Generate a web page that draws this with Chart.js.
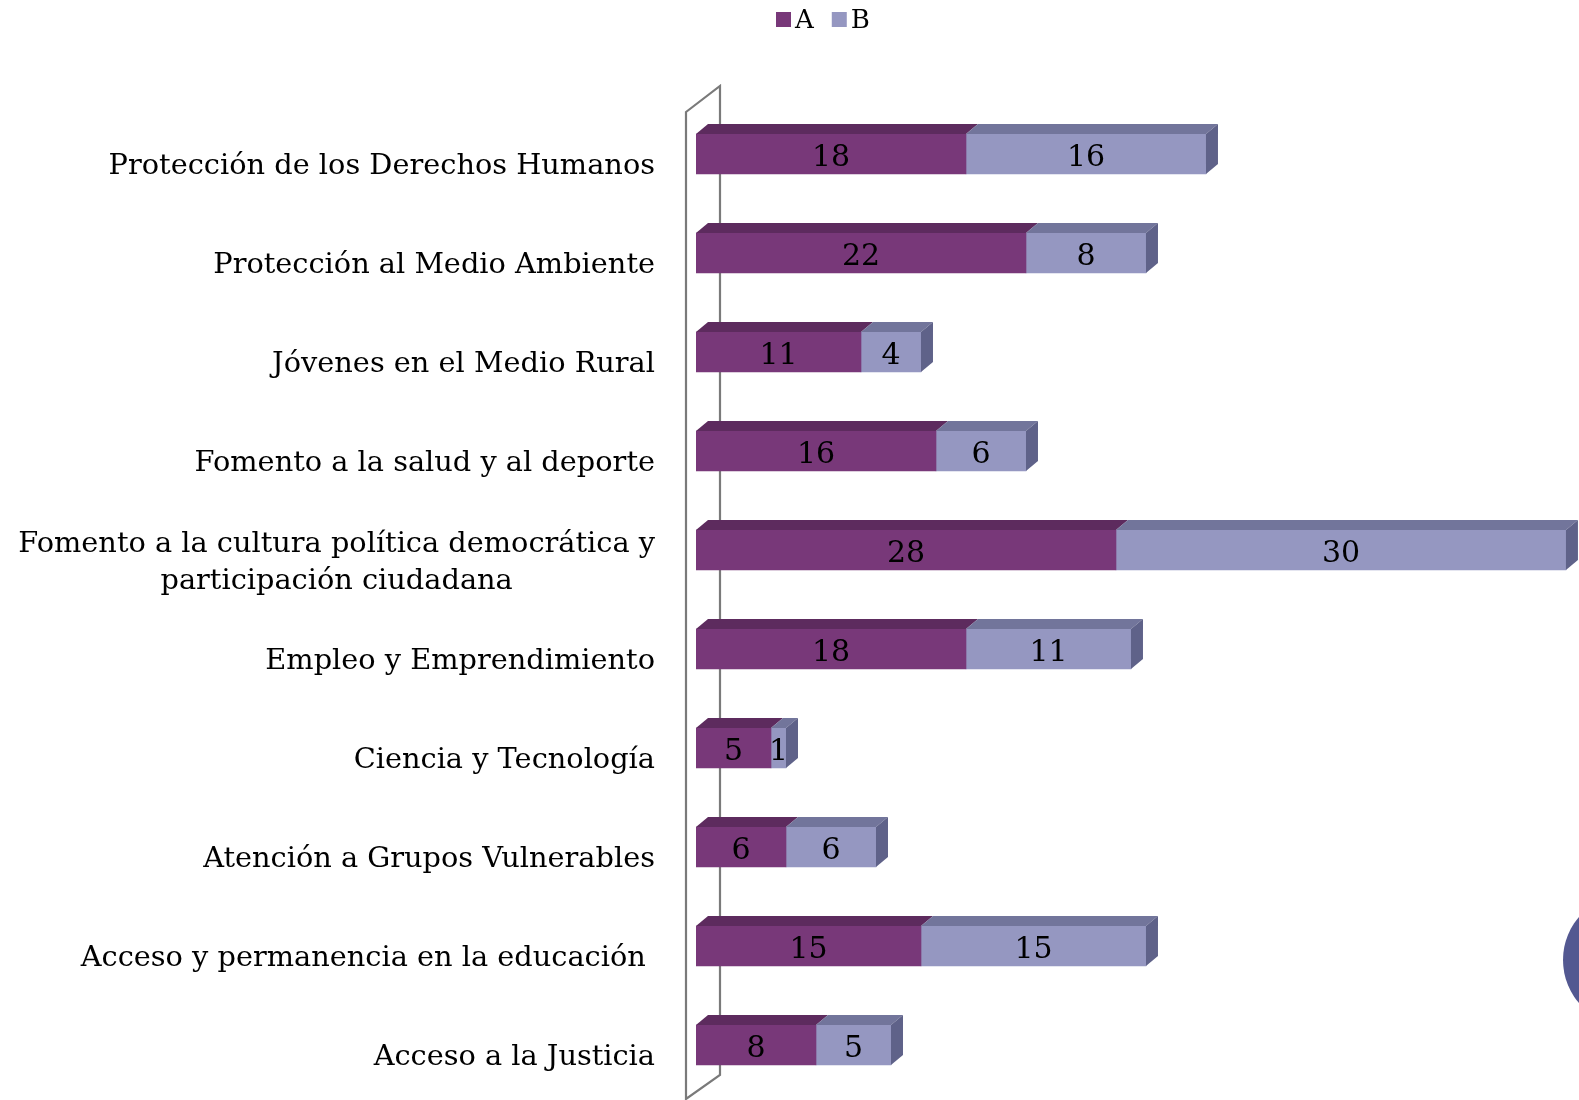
<!DOCTYPE html>
<html><head><meta charset="utf-8">
<script src="https://cdn.jsdelivr.net/npm/chart.js@4/dist/chart.umd.min.js"></script>
<style>html,body{margin:0;padding:0;background:#fff;}#wrap{width:1579px;height:1100px;position:relative;}</style>
</head><body><div id="wrap"><canvas id="c"></canvas></div>
<script>
const categories = [
  'Protección de los Derechos Humanos',
  'Protección al Medio Ambiente',
  'Jóvenes en el Medio Rural',
  'Fomento a la salud y al deporte',
  ['Fomento a la cultura política democrática y', 'participación ciudadana'],
  'Empleo y Emprendimiento',
  'Ciencia y Tecnología',
  'Atención a Grupos Vulnerables',
  'Acceso y permanencia en la educación ',
  'Acceso a la Justicia'
];
const seriesA = [18, 22, 11, 16, 28, 18, 5, 6, 15, 8];
const seriesB = [16, 8, 4, 6, 30, 11, 1, 6, 15, 5];
const seriesNames = ['A', 'B'];

const FONT = '"DejaVu Serif", "Liberation Serif", serif';
const colors = {
  A: {front: '#783879', top: '#5d2b5e', side: '#4f244f'},
  B: {front: '#9597c1', top: '#72759b', side: '#5f6289'}
};
const DX = 12, DY = 10;

const wallPlugin = {
  id: 'wall',
  beforeDatasetsDraw(chart) {
    const ctx = chart.ctx, a = chart.chartArea;
    const xl = a.left - 10, xr = a.left + 24;
    ctx.save();
    ctx.strokeStyle = '#7a7a7a';
    ctx.lineWidth = 2.2;
    ctx.beginPath();
    ctx.moveTo(xl, 112);
    ctx.lineTo(xr, 86);
    ctx.lineTo(xr, 1075);
    ctx.lineTo(xl, 1099);
    ctx.closePath();
    ctx.stroke();
    ctx.restore();
  }
};

const barsPlugin = {
  id: 'bars3d',
  afterDatasetsDraw(chart) {
    const ctx = chart.ctx;
    const nSets = chart.data.datasets.length;
    ctx.save();
    chart.data.datasets.forEach((ds, di) => {
      const meta = chart.getDatasetMeta(di);
      const c = colors[ds.label];
      meta.data.forEach((bar, i) => {
        const p = bar.getProps(['x', 'y', 'base', 'height'], true);
        const x0 = p.base, x1 = p.x, top = p.y - p.height / 2, bot = p.y + p.height / 2;
        ctx.fillStyle = c.top;
        ctx.beginPath();
        ctx.moveTo(x0, top);
        ctx.lineTo(x0 + DX, top - DY);
        ctx.lineTo(x1 + DX, top - DY);
        ctx.lineTo(x1, top);
        ctx.closePath();
        ctx.fill();
        let isLast = true;
        for (let k = di + 1; k < nSets; k++) if (chart.data.datasets[k].data[i] > 0) isLast = false;
        if (isLast) {
          ctx.fillStyle = c.side;
          ctx.beginPath();
          ctx.moveTo(x1, top);
          ctx.lineTo(x1 + DX, top - DY);
          ctx.lineTo(x1 + DX, bot - DY);
          ctx.lineTo(x1, bot);
          ctx.closePath();
          ctx.fill();
        }
      });
    });
    ctx.fillStyle = '#000';
    ctx.font = '30px ' + FONT;
    ctx.textAlign = 'center';
    ctx.textBaseline = 'middle';
    chart.data.datasets.forEach((ds, di) => {
      const meta = chart.getDatasetMeta(di);
      meta.data.forEach((bar, i) => {
        const p = bar.getProps(['x', 'y', 'base'], true);
        ctx.fillText(String(ds.data[i]), (p.x + p.base) / 2, p.y + 4);
      });
    });
    ctx.restore();
  },
  afterDraw(chart) {
    const ctx = chart.ctx;
    const y = chart.scales.y;
    ctx.save();
    ctx.fillStyle = '#000';
    ctx.font = '28.8px ' + FONT;
    ctx.textBaseline = 'middle';
    const right = 655, lh = 37;
    chart.data.labels.forEach((lab, i) => {
      const cy = y.getPixelForTick(i) + 13;
      const lines = Array.isArray(lab) ? lab : [lab];
      const w = Math.max(...lines.map(l => ctx.measureText(l).width));
      const startY = cy - (lines.length - 1) * lh / 2;
      if (lines.length === 1) {
        ctx.textAlign = 'right';
        ctx.fillText(lines[0], right, cy);
      } else {
        ctx.textAlign = 'center';
        lines.forEach((l, k) => ctx.fillText(l, right - w / 2, startY + k * lh));
      }
    });
    ctx.font = '26px ' + FONT;
    ctx.textAlign = 'left';
    let lx = 776;
    chart.data.datasets.forEach(ds => {
      ctx.fillStyle = colors[ds.label].front;
      ctx.fillRect(lx, 12, 15, 15);
      ctx.fillStyle = '#000';
      ctx.fillText(ds.label, lx + 19, 21);
      lx += 19 + ctx.measureText(ds.label).width + 18;
    });
    ctx.fillStyle = '#535891';
    ctx.beginPath();
    ctx.arc(1629, 960, 66, 0, Math.PI * 2);
    ctx.fill();
    ctx.restore();
  }
};

new Chart(document.getElementById('c'), {
  type: 'bar',
  data: {
    labels: categories,
    datasets: [
      {label: seriesNames[0], data: seriesA, backgroundColor: colors.A.front, barThickness: 40},
      {label: seriesNames[1], data: seriesB, backgroundColor: colors.B.front, barThickness: 40}
    ]
  },
  options: {
    indexAxis: 'y',
    responsive: true,
    maintainAspectRatio: false,
    devicePixelRatio: 1,
    animation: false,
    layout: {padding: {left: 696, right: 0, top: 104.5, bottom: 5.5}},
    scales: {
      x: {stacked: true, min: 0, max: 58.87, display: false},
      y: {stacked: true, display: false}
    },
    plugins: {legend: {display: false}, tooltip: {enabled: false}}
  },
  plugins: [wallPlugin, barsPlugin]
});
</script></body></html>
